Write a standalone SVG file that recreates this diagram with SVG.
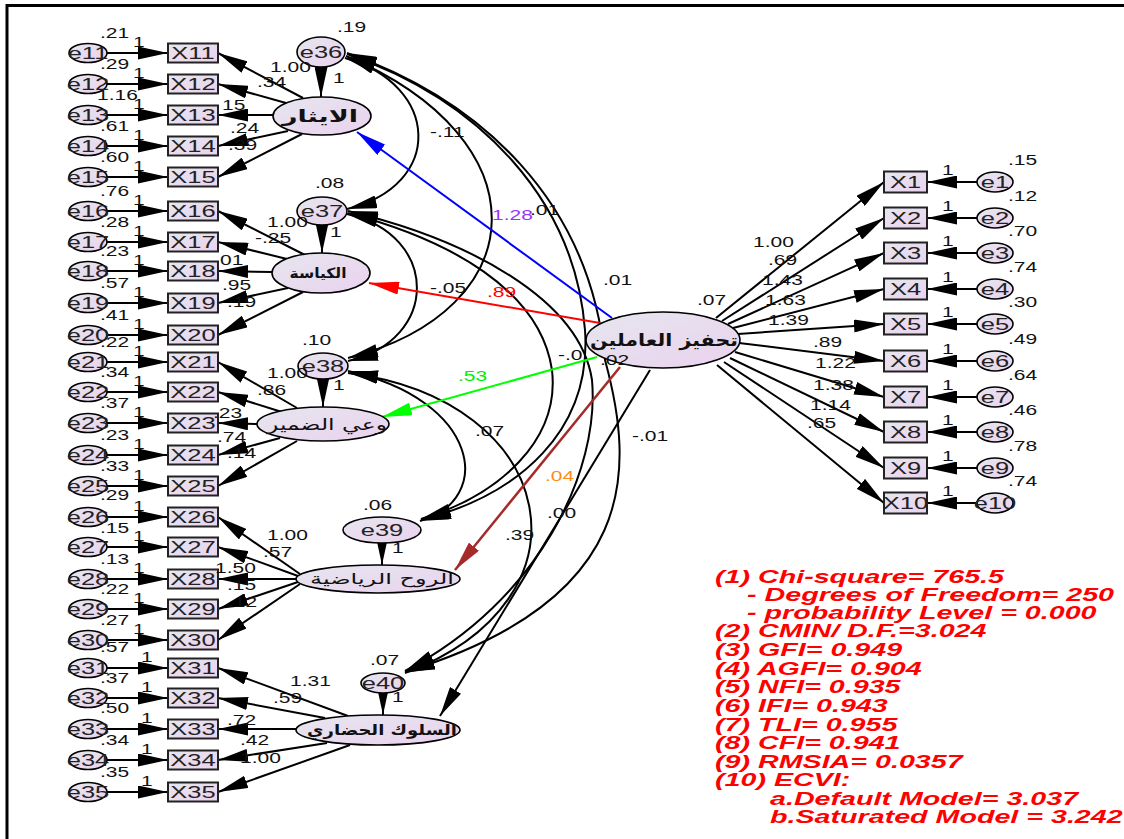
<svg xmlns="http://www.w3.org/2000/svg" width="1124" height="839" viewBox="0 0 1124 839">
<defs>
<linearGradient id="gf" x1="0" y1="0" x2="1" y2="1"><stop offset="0" stop-color="#e6e6ee"/><stop offset="1" stop-color="#ead2ef"/></linearGradient>
<marker id="ah" viewBox="0 0 30 13" refX="30" refY="6.5" markerWidth="30" markerHeight="13" markerUnits="userSpaceOnUse" orient="auto-start-reverse"><path d="M0,0 L30,6.5 L0,13 Z" fill="#000"/></marker>
<marker id="ahb" viewBox="0 0 30 13" refX="30" refY="6.5" markerWidth="30" markerHeight="13" markerUnits="userSpaceOnUse" orient="auto"><path d="M0,0 L30,6.5 L0,13 Z" fill="#0000ff"/></marker>
<marker id="ahr" viewBox="0 0 30 13" refX="30" refY="6.5" markerWidth="30" markerHeight="13" markerUnits="userSpaceOnUse" orient="auto"><path d="M0,0 L30,6.5 L0,13 Z" fill="#ff0000"/></marker>
<marker id="ahg" viewBox="0 0 30 13" refX="30" refY="6.5" markerWidth="30" markerHeight="13" markerUnits="userSpaceOnUse" orient="auto"><path d="M0,0 L30,6.5 L0,13 Z" fill="#00ff00"/></marker>
<marker id="ahn" viewBox="0 0 30 13" refX="30" refY="6.5" markerWidth="30" markerHeight="13" markerUnits="userSpaceOnUse" orient="auto"><path d="M0,0 L30,6.5 L0,13 Z" fill="#a52a2a"/></marker>
</defs>
<style>
.c{stroke:#000;stroke-width:2;fill:none;marker-end:url(#ah)}
.cv{stroke:#000;stroke-width:2;fill:none;marker-start:url(#ah);marker-end:url(#ah)}
.bx{fill:url(#gf);stroke:#222;stroke-width:2}
.el{fill:url(#gf);stroke:#000;stroke-width:1.6}
.t{font-family:"Liberation Sans",Arial,sans-serif;font-size:14px;fill:#111}
.v{font-family:"Liberation Sans",Arial,sans-serif;font-size:17px;fill:#222;text-anchor:middle}
.ar{font-family:"DejaVu Sans","Noto Sans",sans-serif;fill:#111;text-anchor:middle}
.st{font-family:"Liberation Sans",Arial,sans-serif;font-size:18.5px;font-weight:bold;font-style:italic;fill:#ff0000}
</style>
<rect width="1124" height="839" fill="#fff"/>
<path d="M7,839 V5.5 H1124" stroke="#000" stroke-width="3" fill="none"/>

<g id="connectors">
<!-- error to indicator left -->
<path class="c" d="M107,53 H168"/><path class="c" d="M107,84 H168"/><path class="c" d="M107,115 H168"/><path class="c" d="M107,146 H168"/><path class="c" d="M107,177 H168"/>
<path class="c" d="M107,211 H168"/><path class="c" d="M107,242 H168"/><path class="c" d="M107,271 H168"/><path class="c" d="M107,303 H168"/><path class="c" d="M107,335 H168"/>
<path class="c" d="M107,362 H168"/><path class="c" d="M107,392 H168"/><path class="c" d="M107,423 H168"/><path class="c" d="M107,455 H168"/><path class="c" d="M107,486 H168"/>
<path class="c" d="M107,517 H168"/><path class="c" d="M107,547 H168"/><path class="c" d="M107,579 H168"/><path class="c" d="M107,609 H168"/><path class="c" d="M107,640 H168"/>
<path class="c" d="M107,668 H168"/><path class="c" d="M107,698 H168"/><path class="c" d="M107,729 H168"/><path class="c" d="M107,760 H168"/><path class="c" d="M107,792 H168"/>
<!-- loadings left -->
<path class="c" d="M303,98 L218,53"/><path class="c" d="M286,103 L218,84"/><path class="c" d="M273,115 L218,115"/><path class="c" d="M288,131 L218,146"/><path class="c" d="M302,134 L218,177"/>
<path class="c" d="M305,255 L218,211"/><path class="c" d="M287,259 L218,242"/><path class="c" d="M272,272 L218,271"/><path class="c" d="M288,288 L218,303"/><path class="c" d="M303,292 L218,335"/>
<path class="c" d="M297,408 L218,362"/><path class="c" d="M282,412 L218,392"/><path class="c" d="M257,424 L218,423"/><path class="c" d="M280,438 L218,455"/><path class="c" d="M297,441 L218,486"/>
<path class="c" d="M300,574 L218,517"/><path class="c" d="M298,576 L218,547"/><path class="c" d="M297,579 L218,579"/><path class="c" d="M298,582 L218,609"/><path class="c" d="M300,584 L218,640"/>
<path class="c" d="M348,716 L218,668"/><path class="c" d="M325,718 L218,698"/><path class="c" d="M296,729 L218,729"/><path class="c" d="M327,743 L218,760"/><path class="c" d="M350,745 L218,792"/>
<!-- disturbance to factor -->
<path class="c" d="M321,67 V97"/><path class="c" d="M322,225 V253"/><path class="c" d="M323,379 V407"/><path class="c" d="M382,543 V565"/><path class="c" d="M383,693 V715"/>
<!-- covariances -->
<path class="cv" d="M345,58 C440,85 445,185 347,209"/>
<path class="cv" d="M346,56 C545,140 535,310 348,358"/>
<path class="cv" d="M347,54 C480,100 575,200 585,330 C592,430 520,495 421,520"/>
<path class="cv" d="M347,53 C480,100 590,200 605,360 C635,470 640,600 405,672"/>
<path class="cv" d="M347,214 C440,235 440,340 348,361"/>
<path class="cv" d="M348,213 C450,240 540,290 552,370 C560,440 500,495 421,519"/>
<path class="cv" d="M348,211 C470,240 580,300 592,380 C600,470 540,600 405,671"/>
<path class="cv" d="M348,371 C480,400 495,500 420,521"/>
<path class="cv" d="M348,373 C560,400 600,600 405,673"/>
<!-- structural paths -->
<path d="M612,318 L357,132" stroke="#0000ff" stroke-width="2" fill="none" marker-end="url(#ahb)"/>
<path d="M600,323 L369,283" stroke="#ff0000" stroke-width="2" fill="none" marker-end="url(#ahr)"/>
<path d="M597,357 L382,417" stroke="#00ff00" stroke-width="2" fill="none" marker-end="url(#ahg)"/>
<path d="M620,367 L455,570" stroke="#a52a2a" stroke-width="2.5" fill="none" marker-end="url(#ahn)"/>
<path class="c" d="M650,370 L440,716"/>
<!-- loadings right -->
<path class="c" d="M716,318 L884,182"/><path class="c" d="M722,321 L884,218"/><path class="c" d="M728,324 L884,253"/><path class="c" d="M733,328 L884,289"/><path class="c" d="M738,334 L884,324"/>
<path class="c" d="M739,343 L884,361"/><path class="c" d="M735,352 L884,397"/><path class="c" d="M730,358 L884,432"/><path class="c" d="M724,362 L884,468"/><path class="c" d="M717,365 L884,503"/>
<!-- error to indicator right -->
<path class="c" d="M977,182 H927"/><path class="c" d="M977,218 H927"/><path class="c" d="M977,253 H927"/><path class="c" d="M977,289 H927"/><path class="c" d="M977,324 H927"/>
<path class="c" d="M977,361 H927"/><path class="c" d="M977,397 H927"/><path class="c" d="M977,432 H927"/><path class="c" d="M977,468 H927"/><path class="c" d="M977,503 H927"/>
</g>

<g id="nodes">
<g id="X11"><rect class="bx" x="168" y="43.5" width="50" height="19"/><text class="v" transform="translate(193 59) scale(1.5 1)">X11</text></g>
<g id="X12"><rect class="bx" x="168" y="74.5" width="50" height="19"/><text class="v" transform="translate(193 90) scale(1.5 1)">X12</text></g>
<g id="X13"><rect class="bx" x="168" y="105.5" width="50" height="19"/><text class="v" transform="translate(193 121) scale(1.5 1)">X13</text></g>
<g id="X14"><rect class="bx" x="168" y="136.5" width="50" height="19"/><text class="v" transform="translate(193 152) scale(1.5 1)">X14</text></g>
<g id="X15"><rect class="bx" x="168" y="167.5" width="50" height="19"/><text class="v" transform="translate(193 183) scale(1.5 1)">X15</text></g>
<g id="X16"><rect class="bx" x="168" y="201.5" width="50" height="19"/><text class="v" transform="translate(193 217) scale(1.5 1)">X16</text></g>
<g id="X17"><rect class="bx" x="168" y="232.5" width="50" height="19"/><text class="v" transform="translate(193 248) scale(1.5 1)">X17</text></g>
<g id="X18"><rect class="bx" x="168" y="261.5" width="50" height="19"/><text class="v" transform="translate(193 277) scale(1.5 1)">X18</text></g>
<g id="X19"><rect class="bx" x="168" y="293.5" width="50" height="19"/><text class="v" transform="translate(193 309) scale(1.5 1)">X19</text></g>
<g id="X20"><rect class="bx" x="168" y="325.5" width="50" height="19"/><text class="v" transform="translate(193 341) scale(1.5 1)">X20</text></g>
<g id="X21"><rect class="bx" x="168" y="352.5" width="50" height="19"/><text class="v" transform="translate(193 368) scale(1.5 1)">X21</text></g>
<g id="X22"><rect class="bx" x="168" y="382.5" width="50" height="19"/><text class="v" transform="translate(193 398) scale(1.5 1)">X22</text></g>
<g id="X23"><rect class="bx" x="168" y="413.5" width="50" height="19"/><text class="v" transform="translate(193 429) scale(1.5 1)">X23</text></g>
<g id="X24"><rect class="bx" x="168" y="445.5" width="50" height="19"/><text class="v" transform="translate(193 461) scale(1.5 1)">X24</text></g>
<g id="X25"><rect class="bx" x="168" y="476.5" width="50" height="19"/><text class="v" transform="translate(193 492) scale(1.5 1)">X25</text></g>
<g id="X26"><rect class="bx" x="168" y="507.5" width="50" height="19"/><text class="v" transform="translate(193 523) scale(1.5 1)">X26</text></g>
<g id="X27"><rect class="bx" x="168" y="537.5" width="50" height="19"/><text class="v" transform="translate(193 553) scale(1.5 1)">X27</text></g>
<g id="X28"><rect class="bx" x="168" y="569.5" width="50" height="19"/><text class="v" transform="translate(193 585) scale(1.5 1)">X28</text></g>
<g id="X29"><rect class="bx" x="168" y="599.5" width="50" height="19"/><text class="v" transform="translate(193 615) scale(1.5 1)">X29</text></g>
<g id="X30"><rect class="bx" x="168" y="630.5" width="50" height="19"/><text class="v" transform="translate(193 646) scale(1.5 1)">X30</text></g>
<g id="X31"><rect class="bx" x="168" y="658.5" width="50" height="19"/><text class="v" transform="translate(193 674) scale(1.5 1)">X31</text></g>
<g id="X32"><rect class="bx" x="168" y="688.5" width="50" height="19"/><text class="v" transform="translate(193 704) scale(1.5 1)">X32</text></g>
<g id="X33"><rect class="bx" x="168" y="719.5" width="50" height="19"/><text class="v" transform="translate(193 735) scale(1.5 1)">X33</text></g>
<g id="X34"><rect class="bx" x="168" y="750.5" width="50" height="19"/><text class="v" transform="translate(193 766) scale(1.5 1)">X34</text></g>
<g id="X35"><rect class="bx" x="168" y="782.5" width="50" height="19"/><text class="v" transform="translate(193 798) scale(1.5 1)">X35</text></g>

<g id="e11"><ellipse class="el" cx="88" cy="53" rx="19" ry="9.5"/><text class="v" transform="translate(88 59) scale(1.5 1)">e11</text><text class="t" transform="translate(100 38) scale(1.5 1)">.21</text></g>
<g id="e12"><ellipse class="el" cx="88" cy="84" rx="19" ry="9.5"/><text class="v" transform="translate(88 90) scale(1.5 1)">e12</text><text class="t" transform="translate(100 69) scale(1.5 1)">.29</text></g>
<g id="e13"><ellipse class="el" cx="88" cy="115" rx="19" ry="9.5"/><text class="v" transform="translate(88 121) scale(1.5 1)">e13</text><text class="t" transform="translate(97 100) scale(1.5 1)">1.16</text></g>
<g id="e14"><ellipse class="el" cx="88" cy="146" rx="19" ry="9.5"/><text class="v" transform="translate(88 152) scale(1.5 1)">e14</text><text class="t" transform="translate(100 131) scale(1.5 1)">.61</text></g>
<g id="e15"><ellipse class="el" cx="88" cy="177" rx="19" ry="9.5"/><text class="v" transform="translate(88 183) scale(1.5 1)">e15</text><text class="t" transform="translate(100 162) scale(1.5 1)">.60</text></g>
<g id="e16"><ellipse class="el" cx="88" cy="211" rx="19" ry="9.5"/><text class="v" transform="translate(88 217) scale(1.5 1)">e16</text><text class="t" transform="translate(100 196) scale(1.5 1)">.76</text></g>
<g id="e17"><ellipse class="el" cx="88" cy="242" rx="19" ry="9.5"/><text class="v" transform="translate(88 248) scale(1.5 1)">e17</text><text class="t" transform="translate(100 227) scale(1.5 1)">.28</text></g>
<g id="e18"><ellipse class="el" cx="88" cy="271" rx="19" ry="9.5"/><text class="v" transform="translate(88 277) scale(1.5 1)">e18</text><text class="t" transform="translate(100 256) scale(1.5 1)">.23</text></g>
<g id="e19"><ellipse class="el" cx="88" cy="303" rx="19" ry="9.5"/><text class="v" transform="translate(88 309) scale(1.5 1)">e19</text><text class="t" transform="translate(100 288) scale(1.5 1)">.57</text></g>
<g id="e20"><ellipse class="el" cx="88" cy="335" rx="19" ry="9.5"/><text class="v" transform="translate(88 341) scale(1.5 1)">e20</text><text class="t" transform="translate(100 320) scale(1.5 1)">.41</text></g>
<g id="e21"><ellipse class="el" cx="88" cy="362" rx="19" ry="9.5"/><text class="v" transform="translate(88 368) scale(1.5 1)">e21</text><text class="t" transform="translate(100 347) scale(1.5 1)">.22</text></g>
<g id="e22"><ellipse class="el" cx="88" cy="392" rx="19" ry="9.5"/><text class="v" transform="translate(88 398) scale(1.5 1)">e22</text><text class="t" transform="translate(100 377) scale(1.5 1)">.34</text></g>
<g id="e23"><ellipse class="el" cx="88" cy="423" rx="19" ry="9.5"/><text class="v" transform="translate(88 429) scale(1.5 1)">e23</text><text class="t" transform="translate(100 408) scale(1.5 1)">.37</text></g>
<g id="e24"><ellipse class="el" cx="88" cy="455" rx="19" ry="9.5"/><text class="v" transform="translate(88 461) scale(1.5 1)">e24</text><text class="t" transform="translate(100 440) scale(1.5 1)">.23</text></g>
<g id="e25"><ellipse class="el" cx="88" cy="486" rx="19" ry="9.5"/><text class="v" transform="translate(88 492) scale(1.5 1)">e25</text><text class="t" transform="translate(100 471) scale(1.5 1)">.33</text></g>
<g id="e26"><ellipse class="el" cx="88" cy="517" rx="19" ry="9.5"/><text class="v" transform="translate(88 523) scale(1.5 1)">e26</text><text class="t" transform="translate(100 500) scale(1.5 1)">.29</text></g>
<g id="e27"><ellipse class="el" cx="88" cy="547" rx="19" ry="9.5"/><text class="v" transform="translate(88 553) scale(1.5 1)">e27</text><text class="t" transform="translate(100 533) scale(1.5 1)">.15</text></g>
<g id="e28"><ellipse class="el" cx="88" cy="579" rx="19" ry="9.5"/><text class="v" transform="translate(88 585) scale(1.5 1)">e28</text><text class="t" transform="translate(100 564) scale(1.5 1)">.13</text></g>
<g id="e29"><ellipse class="el" cx="88" cy="609" rx="19" ry="9.5"/><text class="v" transform="translate(88 615) scale(1.5 1)">e29</text><text class="t" transform="translate(100 594) scale(1.5 1)">.22</text></g>
<g id="e30"><ellipse class="el" cx="88" cy="640" rx="19" ry="9.5"/><text class="v" transform="translate(88 646) scale(1.5 1)">e30</text><text class="t" transform="translate(100 625) scale(1.5 1)">.27</text></g>
<g id="e31"><ellipse class="el" cx="88" cy="668" rx="19" ry="9.5"/><text class="v" transform="translate(88 674) scale(1.5 1)">e31</text><text class="t" transform="translate(100 652) scale(1.5 1)">.57</text></g>
<g id="e32"><ellipse class="el" cx="88" cy="698" rx="19" ry="9.5"/><text class="v" transform="translate(88 704) scale(1.5 1)">e32</text><text class="t" transform="translate(100 683) scale(1.5 1)">.37</text></g>
<g id="e33"><ellipse class="el" cx="88" cy="729" rx="19" ry="9.5"/><text class="v" transform="translate(88 735) scale(1.5 1)">e33</text><text class="t" transform="translate(100 713) scale(1.5 1)">.50</text></g>
<g id="e34"><ellipse class="el" cx="88" cy="760" rx="19" ry="9.5"/><text class="v" transform="translate(88 766) scale(1.5 1)">e34</text><text class="t" transform="translate(100 745) scale(1.5 1)">.34</text></g>
<g id="e35"><ellipse class="el" cx="88" cy="792" rx="19" ry="9.5"/><text class="v" transform="translate(88 798) scale(1.5 1)">e35</text><text class="t" transform="translate(100 777) scale(1.5 1)">.35</text></g>

<g id="e36"><ellipse class="el" cx="321" cy="52" rx="24" ry="15"/><text class="v" transform="translate(321 58) scale(1.5 1)">e36</text><text class="t" transform="translate(337 32) scale(1.5 1)">.19</text></g>
<g id="e37"><ellipse class="el" cx="322" cy="211" rx="25" ry="14"/><text class="v" transform="translate(322 217) scale(1.5 1)">e37</text><text class="t" transform="translate(315 188) scale(1.5 1)">.08</text></g>
<g id="e38"><ellipse class="el" cx="323" cy="366" rx="25" ry="13"/><text class="v" transform="translate(323 372) scale(1.5 1)">e38</text><text class="t" transform="translate(302 345) scale(1.5 1)">.10</text></g>
<g id="e39"><ellipse class="el" cx="382" cy="530" rx="39" ry="13"/><text class="v" transform="translate(382 536) scale(1.5 1)">e39</text><text class="t" transform="translate(363 510) scale(1.5 1)">.06</text></g>
<g id="e40"><ellipse class="el" cx="383" cy="683" rx="22" ry="10"/><text class="v" transform="translate(383 689) scale(1.5 1)">e40</text><text class="t" transform="translate(370 665) scale(1.5 1)">.07</text></g>

<g id="F1"><ellipse class="el" cx="322" cy="116" rx="49" ry="19"/><text class="ar" x="320" y="122" font-size="17" font-weight="bold" textLength="76" lengthAdjust="spacingAndGlyphs">الايثار</text></g>
<g id="F2"><ellipse class="el" cx="321" cy="273" rx="49" ry="20"/><text class="ar" x="318" y="278" font-size="14" font-weight="bold" textLength="57" lengthAdjust="spacingAndGlyphs">الكياسة</text></g>
<g id="F3"><ellipse class="el" cx="323" cy="424" rx="66" ry="17"/><text class="ar" x="327" y="430" font-size="16" textLength="120" lengthAdjust="spacingAndGlyphs">وعي الضمير</text></g>
<g id="F4"><ellipse class="el" cx="378" cy="579" rx="82" ry="14"/><text class="ar" x="382" y="584" font-size="15" textLength="144" lengthAdjust="spacingAndGlyphs">الروح الرياضية</text></g>
<g id="F5"><ellipse class="el" cx="378" cy="730" rx="82" ry="15"/><text class="ar" x="382" y="735" font-size="15" font-weight="bold" textLength="150" lengthAdjust="spacingAndGlyphs">السلوك الحضاري</text></g>
<g id="F0"><ellipse class="el" cx="663" cy="340" rx="77" ry="28"/><text class="ar" x="664" y="346" font-size="17" font-weight="bold" textLength="148" lengthAdjust="spacingAndGlyphs">تحفيز العاملين</text><text class="t" transform="translate(697 305) scale(1.5 1)">.07</text></g>

<g id="X1"><rect class="bx" x="884" y="171.5" width="43" height="21"/><text class="v" transform="translate(905.5 188) scale(1.5 1)">X1</text></g>
<g id="X2"><rect class="bx" x="884" y="207.5" width="43" height="21"/><text class="v" transform="translate(905.5 224) scale(1.5 1)">X2</text></g>
<g id="X3"><rect class="bx" x="884" y="242.5" width="43" height="21"/><text class="v" transform="translate(905.5 259) scale(1.5 1)">X3</text></g>
<g id="X4"><rect class="bx" x="884" y="278.5" width="43" height="21"/><text class="v" transform="translate(905.5 295) scale(1.5 1)">X4</text></g>
<g id="X5"><rect class="bx" x="884" y="313.5" width="43" height="21"/><text class="v" transform="translate(905.5 330) scale(1.5 1)">X5</text></g>
<g id="X6"><rect class="bx" x="884" y="350.5" width="43" height="21"/><text class="v" transform="translate(905.5 367) scale(1.5 1)">X6</text></g>
<g id="X7"><rect class="bx" x="884" y="386.5" width="43" height="21"/><text class="v" transform="translate(905.5 403) scale(1.5 1)">X7</text></g>
<g id="X8"><rect class="bx" x="884" y="421.5" width="43" height="21"/><text class="v" transform="translate(905.5 438) scale(1.5 1)">X8</text></g>
<g id="X9"><rect class="bx" x="884" y="457.5" width="43" height="21"/><text class="v" transform="translate(905.5 474) scale(1.5 1)">X9</text></g>
<g id="X10"><rect class="bx" x="884" y="492.5" width="43" height="21"/><text class="v" transform="translate(905.5 509) scale(1.5 1)">X10</text></g>

<g id="e1"><ellipse class="el" cx="995" cy="182" rx="18" ry="10"/><text class="v" transform="translate(995 188) scale(1.5 1)">e1</text><text class="t" transform="translate(1008 165) scale(1.5 1)">.15</text></g>
<g id="e2"><ellipse class="el" cx="995" cy="218" rx="18" ry="10"/><text class="v" transform="translate(995 224) scale(1.5 1)">e2</text><text class="t" transform="translate(1008 201) scale(1.5 1)">.12</text></g>
<g id="e3"><ellipse class="el" cx="995" cy="253" rx="18" ry="10"/><text class="v" transform="translate(995 259) scale(1.5 1)">e3</text><text class="t" transform="translate(1008 236) scale(1.5 1)">.70</text></g>
<g id="e4"><ellipse class="el" cx="995" cy="289" rx="18" ry="10"/><text class="v" transform="translate(995 295) scale(1.5 1)">e4</text><text class="t" transform="translate(1008 272) scale(1.5 1)">.74</text></g>
<g id="e5"><ellipse class="el" cx="995" cy="324" rx="18" ry="10"/><text class="v" transform="translate(995 330) scale(1.5 1)">e5</text><text class="t" transform="translate(1008 307) scale(1.5 1)">.30</text></g>
<g id="e6"><ellipse class="el" cx="995" cy="361" rx="18" ry="10"/><text class="v" transform="translate(995 367) scale(1.5 1)">e6</text><text class="t" transform="translate(1008 344) scale(1.5 1)">.49</text></g>
<g id="e7"><ellipse class="el" cx="995" cy="397" rx="18" ry="10"/><text class="v" transform="translate(995 403) scale(1.5 1)">e7</text><text class="t" transform="translate(1008 380) scale(1.5 1)">.64</text></g>
<g id="e8"><ellipse class="el" cx="995" cy="432" rx="18" ry="10"/><text class="v" transform="translate(995 438) scale(1.5 1)">e8</text><text class="t" transform="translate(1008 415) scale(1.5 1)">.46</text></g>
<g id="e9"><ellipse class="el" cx="995" cy="468" rx="18" ry="10"/><text class="v" transform="translate(995 474) scale(1.5 1)">e9</text><text class="t" transform="translate(1008 451) scale(1.5 1)">.78</text></g>
<g id="e10"><ellipse class="el" cx="995" cy="503" rx="18" ry="10"/><text class="v" transform="translate(995 509) scale(1.5 1)">e10</text><text class="t" transform="translate(1008 486) scale(1.5 1)">.74</text></g>
</g>

<g id="labels">
<g class="t">
<text transform="translate(133 47) scale(1.5 1)">1</text><text transform="translate(133 78) scale(1.5 1)">1</text><text transform="translate(133 109) scale(1.5 1)">1</text><text transform="translate(133 140) scale(1.5 1)">1</text><text transform="translate(133 171) scale(1.5 1)">1</text>
<text transform="translate(133 205) scale(1.5 1)">1</text><text transform="translate(133 236) scale(1.5 1)">1</text><text transform="translate(133 265) scale(1.5 1)">1</text><text transform="translate(133 297) scale(1.5 1)">1</text><text transform="translate(133 329) scale(1.5 1)">1</text>
<text transform="translate(133 356) scale(1.5 1)">1</text><text transform="translate(133 386) scale(1.5 1)">1</text><text transform="translate(133 417) scale(1.5 1)">1</text><text transform="translate(133 449) scale(1.5 1)">1</text><text transform="translate(133 480) scale(1.5 1)">1</text>
<text transform="translate(133 511) scale(1.5 1)">1</text><text transform="translate(133 541) scale(1.5 1)">1</text><text transform="translate(133 573) scale(1.5 1)">1</text><text transform="translate(133 603) scale(1.5 1)">1</text><text transform="translate(133 634) scale(1.5 1)">1</text>
<text transform="translate(141 662) scale(1.5 1)">1</text><text transform="translate(141 692) scale(1.5 1)">1</text><text transform="translate(141 723) scale(1.5 1)">1</text><text transform="translate(141 754) scale(1.5 1)">1</text><text transform="translate(141 786) scale(1.5 1)">1</text>
<text transform="translate(333 83) scale(1.5 1)">1</text><text transform="translate(330 237) scale(1.5 1)">1</text><text transform="translate(333 390) scale(1.5 1)">1</text><text transform="translate(392 553) scale(1.5 1)">1</text><text transform="translate(392 702) scale(1.5 1)">1</text>
<text transform="translate(942 175) scale(1.5 1)">1</text><text transform="translate(942 211) scale(1.5 1)">1</text><text transform="translate(942 246) scale(1.5 1)">1</text><text transform="translate(942 282) scale(1.5 1)">1</text><text transform="translate(942 317) scale(1.5 1)">1</text>
<text transform="translate(942 354) scale(1.5 1)">1</text><text transform="translate(942 390) scale(1.5 1)">1</text><text transform="translate(942 425) scale(1.5 1)">1</text><text transform="translate(942 461) scale(1.5 1)">1</text><text transform="translate(942 496) scale(1.5 1)">1</text>
<text transform="translate(270 72) scale(1.5 1)">1.00</text><text transform="translate(257 87) scale(1.5 1)">.34</text><text transform="translate(222 110) scale(1.5 1)">15</text><text transform="translate(230 133) scale(1.5 1)">.24</text><text transform="translate(228 150) scale(1.5 1)">.39</text>
<text transform="translate(267 227) scale(1.5 1)">1.00</text><text transform="translate(255 243) scale(1.5 1)">-.25</text><text transform="translate(220 265) scale(1.5 1)">01</text><text transform="translate(222 290) scale(1.5 1)">.95</text><text transform="translate(227 307) scale(1.5 1)">.19</text>
<text transform="translate(267 378) scale(1.5 1)">1.00</text><text transform="translate(257 395) scale(1.5 1)">.86</text><text transform="translate(213 418) scale(1.5 1)">.23</text><text transform="translate(217 442) scale(1.5 1)">.74</text><text transform="translate(227 458) scale(1.5 1)">.14</text>
<text transform="translate(267 540) scale(1.5 1)">1.00</text><text transform="translate(263 557) scale(1.5 1)">.57</text><text transform="translate(215 573) scale(1.5 1)">1.50</text><text transform="translate(227 590) scale(1.5 1)">.15</text><text transform="translate(228 607) scale(1.5 1)">.12</text>
<text transform="translate(290 686) scale(1.5 1)">1.31</text><text transform="translate(273 703) scale(1.5 1)">.59</text><text transform="translate(227 725) scale(1.5 1)">.72</text><text transform="translate(240 745) scale(1.5 1)">.42</text><text transform="translate(240 763) scale(1.5 1)">1.00</text>
<text transform="translate(753 247) scale(1.5 1)">1.00</text><text transform="translate(768 265) scale(1.5 1)">.69</text><text transform="translate(762 285) scale(1.5 1)">1.43</text><text transform="translate(765 305) scale(1.5 1)">1.63</text><text transform="translate(768 325) scale(1.5 1)">1.39</text>
<text transform="translate(813 347) scale(1.5 1)">.89</text><text transform="translate(815 368) scale(1.5 1)">1.22</text><text transform="translate(813 390) scale(1.5 1)">1.38</text><text transform="translate(810 410) scale(1.5 1)">1.14</text><text transform="translate(807 428) scale(1.5 1)">.65</text>
<text transform="translate(430 137) scale(1.5 1)">-.11</text>
<text transform="translate(530 215) scale(1.5 1)">.01</text>
<text transform="translate(603 285) scale(1.5 1)">.01</text>
<text transform="translate(430 293) scale(1.5 1)">-.05</text>
<text transform="translate(558 360) scale(1.5 1)">-.0</text>
<text transform="translate(600 365) scale(1.5 1)">.02</text>
<text transform="translate(475 436) scale(1.5 1)">.07</text>
<text transform="translate(632 441) scale(1.5 1)">-.01</text>
<text transform="translate(547 518) scale(1.5 1)">.00</text>
<text transform="translate(505 540) scale(1.5 1)">.39</text>
</g>
<text class="t" transform="translate(492 220) scale(1.5 1)" style="fill:#9933ff">1.28</text>
<text class="t" transform="translate(487 297) scale(1.5 1)" style="fill:#ff0000">.89</text>
<text class="t" transform="translate(458 381) scale(1.5 1)" style="fill:#00ee00">.53</text>
<text class="t" transform="translate(545 481) scale(1.5 1)" style="fill:#ff8c1a">.04</text>
</g>

<g id="fit-indices" class="st">
<text transform="translate(715 583) scale(1.55 1)">(1) Chi-square= 765.5</text>
<text transform="translate(747 601) scale(1.55 1)">- Degrees of Freedom= 250</text>
<text transform="translate(747 619) scale(1.55 1)">- probability Level = 0.000</text>
<text transform="translate(715 637) scale(1.55 1)">(2) CMIN/ D.F.=3.024</text>
<text transform="translate(715 656) scale(1.55 1)">(3) GFI= 0.949</text>
<text transform="translate(715 675) scale(1.55 1)">(4) AGFI= 0.904</text>
<text transform="translate(715 693) scale(1.55 1)">(5) NFI= 0.935</text>
<text transform="translate(715 712) scale(1.55 1)">(6) IFI= 0.943</text>
<text transform="translate(715 731) scale(1.55 1)">(7) TLI= 0.955</text>
<text transform="translate(715 749) scale(1.55 1)">(8) CFI= 0.941</text>
<text transform="translate(715 768) scale(1.55 1)">(9) RMSIA= 0.0357</text>
<text transform="translate(715 786) scale(1.55 1)">(10) ECVI:</text>
<text transform="translate(770 805) scale(1.55 1)">a.Default Model= 3.037</text>
<text transform="translate(770 823) scale(1.55 1)">b.Saturated Model = 3.242</text>
</g>
</svg>
